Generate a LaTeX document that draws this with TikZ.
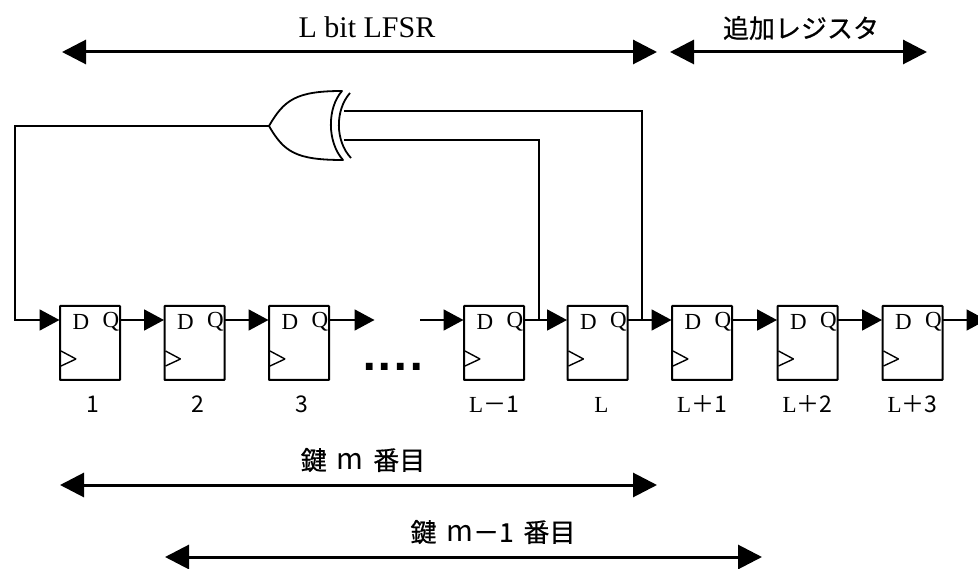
\documentclass[tikz,border=0pt]{standalone}
\usepackage{fontspec}
\setmainfont{Liberation Serif}
\newfontfamily\jpfont{Noto Sans CJK JP}
\newfontfamily\jpheavy[FakeBold=0.5]{Noto Sans CJK JP}
\newfontfamily\dotfont{DejaVu Sans}
\newcommand{\keyindex}[1]{{\jpfont\fontsize{29}{29}\selectfont #1}}
\usepackage{tikz}
\usetikzlibrary{arrows.meta, positioning}

\begin{document}
\begin{tikzpicture}[
    x=1pt, y=-1pt,
    ffbox/.style={rectangle, draw=black, line width=2pt, minimum width=60pt, minimum height=74pt,
                  inner sep=0pt, outer sep=0pt, rounded corners=0.5pt,
                  path picture={
                      \draw[line width=1.4pt] ([xshift=1pt,yshift=-8pt]path picture bounding box.west)
                          -- ([xshift=16pt,yshift=-16pt]path picture bounding box.west)
                          -- ([xshift=1pt,yshift=-23pt]path picture bounding box.west);
                  }},
    pinD/.style={font=\fontsize{23}{23}\selectfont, inner sep=0pt},
    numlabel/.style={font=\fontsize{23}{23}\selectfont, inner sep=0pt},
    wire/.style={line width=1.8pt},
    arrow/.style={-{Triangle[length=20pt,width=21pt]}, line width=1.8pt, shorten >=0.5pt},
    span/.style={{Triangle[length=24pt,width=24pt]}-{Triangle[length=24pt,width=24pt]}, line width=3pt},
    spantext/.style={font=\fontsize{30}{30}\selectfont, inner sep=0pt},
    jptext/.style={font=\jpheavy\fontsize{26}{26}\selectfont, inner sep=0pt},
]
    \useasboundingbox (0,0) rectangle (978,569);

    % Flip-flops of the LFSR
    \node[ffbox] (ff1) at (90,343) {};
    \node[ffbox, right=44.5pt of ff1] (ff2) {};
    \node[ffbox, right=44.5pt of ff2] (ff3) {};
    \node[ffbox] (ffa) at (494,343) {};
    \node[ffbox, right=43.5pt of ffa] (ffb) {};

    % Additional registers
    \node[ffbox, right=44.5pt of ffb] (ffc) {};
    \node[ffbox, right=45.5pt of ffc] (ffd) {};
    \node[ffbox, right=45pt of ffd] (ffe) {};

    % D and Q pins
    \node[pinD] (d1) at ([xshift=-9pt,yshift=21pt]ff1.center) {D};
    \node[pinD] (q1) at ([xshift=21pt,yshift=21pt]ff1.center) {Q};
    \node[pinD] (d2) at ([xshift=-9pt,yshift=21pt]ff2.center) {D};
    \node[pinD] (q2) at ([xshift=21pt,yshift=21pt]ff2.center) {Q};
    \node[pinD] (d3) at ([xshift=-9pt,yshift=21pt]ff3.center) {D};
    \node[pinD] (q3) at ([xshift=21pt,yshift=21pt]ff3.center) {Q};
    \node[pinD] (da) at ([xshift=-9pt,yshift=21pt]ffa.center) {D};
    \node[pinD] (qa) at ([xshift=21pt,yshift=21pt]ffa.center) {Q};
    \node[pinD] (db) at ([xshift=-9pt,yshift=21pt]ffb.center) {D};
    \node[pinD] (qb) at ([xshift=21pt,yshift=21pt]ffb.center) {Q};
    \node[pinD] (dc) at ([xshift=-9pt,yshift=21pt]ffc.center) {D};
    \node[pinD] (qc) at ([xshift=21pt,yshift=21pt]ffc.center) {Q};
    \node[pinD] (dd) at ([xshift=-9pt,yshift=21pt]ffd.center) {D};
    \node[pinD] (qd) at ([xshift=21pt,yshift=21pt]ffd.center) {Q};
    \node[pinD] (de) at ([xshift=-9pt,yshift=21pt]ffe.center) {D};
    \node[pinD] (qe) at ([xshift=21pt,yshift=21pt]ffe.center) {Q};

    % Numbers under the boxes
    \node[numlabel] (n1) at ([xshift=3pt,yshift=-61pt]ff1.center) {\jpfont 1};
    \node[numlabel] (n2) at ([xshift=3pt,yshift=-61pt]ff2.center) {\jpfont 2};
    \node[numlabel] (n3) at ([xshift=3pt,yshift=-61pt]ff3.center) {\jpfont 3};
    \node[numlabel] (na) at ([yshift=-61pt]ffa.center) {L{\jpfont －1}};
    \node[numlabel] (nb) at ([xshift=4pt,yshift=-62pt]ffb.center) {L};
    \node[numlabel] (nc) at ([yshift=-61pt]ffc.center) {L{\jpfont ＋1}};
    \node[numlabel] (nd) at ([yshift=-61pt]ffd.center) {L{\jpfont ＋2}};
    \node[numlabel] (ne) at ([yshift=-61pt]ffe.center) {L{\jpfont ＋3}};

    \node[inner sep=0pt, font=\dotfont\bfseries\fontsize{38}{38}\selectfont] (gap) at (393,367)
        {.\hspace{1.2pt}.\hspace{1.2pt}.\hspace{1.2pt}.};

    % XOR gate
    \coordinate (xorout) at (269,126);
    \coordinate (xorina) at (344,111);
    \coordinate (xorinb) at (344,140);
    \draw[wire, line join=round] (xorout) .. controls (284,100) and (296,91) .. (342,91)
        .. controls (327,108) and (327,142) .. (343,160)
        .. controls (296,160) and (284,152) .. (xorout);
    \draw[wire] (350,93) .. controls (335,110) and (335,141) .. (351,158);

    % Free ends of the chain
    \coordinate (feed) at (15,126);
    \coordinate (open3) at (375,320);
    \coordinate (opena) at (420,320);
    \coordinate (tapa) at (539,320);
    \coordinate (tapb) at (642,320);
    \coordinate (endout) at (987,320);

    % Shift path
    \draw[arrow] (xorout) -- (feed) |- ([yshift=23pt]ff1.west);
    \draw[arrow] ([yshift=23pt]ff1.east) -- ([yshift=23pt]ff2.west);
    \draw[arrow] ([yshift=23pt]ff2.east) -- ([yshift=23pt]ff3.west);
    \draw[arrow] ([yshift=23pt]ff3.east) -- (open3);
    \draw[arrow] (opena) -- ([yshift=23pt]ffa.west);
    \draw[arrow] ([yshift=23pt]ffa.east) -- ([yshift=23pt]ffb.west);
    \draw[arrow] ([yshift=23pt]ffb.east) -- ([yshift=23pt]ffc.west);
    \draw[arrow] ([yshift=23pt]ffc.east) -- ([yshift=23pt]ffd.west);
    \draw[arrow] ([yshift=23pt]ffd.east) -- ([yshift=23pt]ffe.west);
    \draw[arrow] ([yshift=23pt]ffe.east) -- (endout);

    % Feedback taps
    \draw[wire] (tapa) -- (tapa |- xorinb) -- (xorinb);
    \draw[wire] (tapb) -- (tapb |- xorina) -- (xorina);

    % Span arrows and their texts
    \coordinate (lfsrl) at (62,52);
    \coordinate (lfsrr) at (657,52);
    \coordinate (addl) at (670,52);
    \coordinate (addr) at (927,52);
    \coordinate (keyl) at (60,485);
    \coordinate (keyr) at (657,485);
    \coordinate (prevl) at (165,557);
    \coordinate (prevr) at (762,557);

    \draw[span] (lfsrl) -- (lfsrr);
    \draw[span] (addl) -- (addr);
    \draw[span] (keyl) -- (keyr);
    \draw[span] (prevl) -- (prevr);

    \node[spantext] (lfsrtext) at (367,27) {L bit LFSR};
    \node[jptext] (addtext) at (801,28) {追加レジスタ};
    \node[jptext] (keytext) at (363,460) {鍵\hspace{4pt} \keyindex{m}\hspace{4pt} 番目};
    \node[jptext] (prevtext) at (493,532) {鍵\hspace{4pt} \keyindex{m}－1\hspace{4pt} 番目};
\end{tikzpicture}
\end{document}
